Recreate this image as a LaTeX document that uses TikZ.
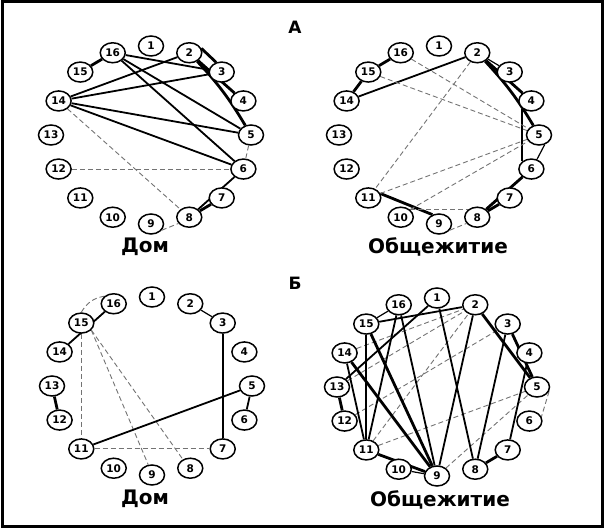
\documentclass[tikz,border=0pt]{standalone}
\usepackage{fontspec}
\setmainfont{DejaVu Sans}
\usetikzlibrary{shapes.geometric}
\pgfdeclarelayer{bg}
\pgfsetlayers{bg,main}
\begin{document}
\begin{tikzpicture}[x=1pt,y=1pt,
  nd/.style={ellipse, draw, line width=1.5pt, fill=white, minimum width=25pt, minimum height=20pt, inner sep=0pt, font=\fontsize{10.5}{10.5}\selectfont\bfseries},
  th/.style={line width=2.8pt},
  md/.style={line width=1.8pt},
  tn/.style={line width=1.2pt},
  ds/.style={draw=black!55, line width=0.9pt, dash pattern=on 5pt off 3pt},
  ttl/.style={font=\fontsize{17}{17}\selectfont\bfseries},
  captxt/.style={font=\fontsize{20}{20}\selectfont\bfseries},
  frm/.style={line width=3pt}
]
\useasboundingbox (0,0) rectangle (607,529);
\draw[frm] (2.5,2.5) rectangle (602.5,527);

\foreach \p/\cx/\cy in {A/151/394, B/439/394, C/152/143, D/437/142} {
  \begin{scope}[shift={(\cx,\cy)}]
  \foreach \i in {1,...,16} {
    \pgfmathsetmacro\ang{90-(\i-1)*22.5}
    \node[nd] (\p\i) at (\ang:100pt and 89pt) {\i};
  }
  \end{scope}
}

\node[ttl] (tA) at (295,502) {А};
\node[ttl] (tB) at (295,246) {Б};
\node[captxt] (cA1) at (145,282) {Дом};
\node[captxt] (cA2) at (438,282) {Общежитие};
\node[captxt] (cB1) at (145,30) {Дом};
\node[captxt] (cB2) at (440,29) {Общежитие};

\begin{pgfonlayer}{bg}
% ---- A, Dom
\draw[th] (A15) -- (A16);
\draw[th] (A2.20) -- (A3.120);
\draw[th] (A7) -- (A8);
\draw[th] (A2) -- (A4);
\draw[th] (A2) to[bend left=6] (A5);
\draw[md] (A14) -- (A2);
\draw[md] (A14) -- (A3);
\draw[md] (A14) -- (A5);
\draw[md] (A14) -- (A6);
\draw[md] (A16) -- (A3);
\draw[md] (A16) -- (A5);
\draw[md] (A16) -- (A6);
\draw[md] (A6) -- (A8);
\draw[ds] (A5) -- (A6);
\draw[ds] (A12) -- (A6);
\draw[ds] (A14) -- (A8);
\draw[ds] (A9.-30) -- (A8.-150);
% ---- A, Obshch
\draw[th] (B16) -- (B15);
\draw[th] (B15) -- (B14);
\draw[th] (B2) -- (B4);
\draw[th] (B2) to[bend left=6] (B5);
\draw[th] (B6) -- (B8);
\draw[th] (B7) -- (B8);
\draw[th] (B11.20) -- (B9.125);
\draw[md] (B14) -- (B2);
\draw[md] (B4.south west) -- (B6.north west);
\draw[tn] (B2) -- (B3);
\draw[tn] (B5.-60) -- (B6.60);
\draw[ds] (B16) -- (B5);
\draw[ds] (B15) -- (B5);
\draw[ds] (B2) -- (B11);
\draw[ds] (B11) -- (B5);
\draw[ds] (B10.north east) -- (B5);
\draw[ds] (B10.north east) -- (B8.north west);
\draw[ds] (B9.-30) -- (B8.-150);
% ---- B, Dom
\draw[ds] (C16.north west) to[bend right=25] (C15.north);
\draw[ds] (C11) -- (C7);
\draw[ds] (C15) -- (C11);
\draw[ds] (C15.-35) -- (C9.110);
\draw[ds] (C15.-35) -- (C8.130);
\draw[md] (C16) -- (C14);
\draw[md] (C3) -- (C7);
\draw[md] (C5) -- (C11);
\draw[md] (C5) -- (C6);
\draw[tn] (C2) -- (C3);
\draw[th] (C13) -- (C12);
% ---- B, Obshch
\draw[ds] (D14) -- (D2);
\draw[ds] (D13) -- (D2);
\draw[ds] (D12) -- (D3);
\draw[ds] (D11) -- (D2);
\draw[ds] (D11) -- (D5);
\draw[ds] (D9) -- (D5);
\draw[ds] (D5.-20) -- (D6.20);
\draw[tn] (D16) -- (D15);
\draw[tn] (D10) -- (D9);
\draw[md] (D15) -- (D2);
\draw[md] (D16) -- (D11);
\draw[md] (D16) -- (D9);
\draw[md] (D1) -- (D13);
\draw[md] (D1) -- (D8);
\draw[md] (D2) -- (D9);
\draw[md] (D3) -- (D8);
\draw[md] (D4) -- (D7);
\draw[md] (D15) -- (D11);
\draw[md] (D14) -- (D11);
\draw[th] (D2) -- (D5);
\draw[th] (D3) -- (D5);
\draw[th] (D15) -- (D9);
\draw[th] (D14) -- (D9);
\draw[th] (D11) -- (D9);
\draw[th] (D7) -- (D8);
\draw[th] (D13) -- (D12);
\end{pgfonlayer}
\end{tikzpicture}
\end{document}
